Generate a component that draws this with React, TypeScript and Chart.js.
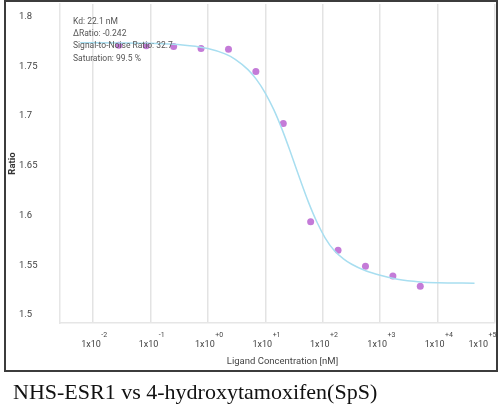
import React, { useEffect, useRef } from "react";
import { Chart, registerables } from "chart.js";

Chart.register(...registerables);

// ---- data ----
const concentrationsNM = [0.0282, 0.0847, 0.254, 0.762, 2.29, 6.86, 20.6, 61.7, 185, 556, 1667, 5000];
const ratioValues = [1.771, 1.7704, 1.7697, 1.7677, 1.767, 1.7446, 1.6923, 1.5938, 1.5651, 1.549, 1.5391, 1.5289];
const fitConcentrationsNM = [0.006, 0.03, 0.1, 0.3, 1, 2, 3, 5, 7, 10, 14, 20, 28, 40, 56, 80, 110, 160, 230, 320, 560, 1000, 2000, 5000, 10000, 44000];
const fitRatios = [1.7735, 1.7733, 1.7729, 1.7718, 1.7678, 1.7623, 1.7569, 1.7465, 1.7367, 1.723, 1.7065, 1.6852, 1.6622, 1.6368, 1.6139, 1.5929, 1.5776, 1.5645, 1.5565, 1.551, 1.5445, 1.54, 1.536, 1.5333, 1.5325, 1.532];
const xTickValues = [0.01, 0.1, 1, 10, 100, 1000, 10000, 100000];
const xTickExponents = ["-2", "-1", "+0", "+1", "+2", "+3", "+4", "+5"];
const yTickValues = [1.5, 1.55, 1.6, 1.65, 1.7, 1.75, 1.8];
const fitStats = ["Kd: 22.1 nM", "\u0394Ratio: -0.242", "Signal-to-Noise Ratio: 32.7", "Saturation: 99.5 %"];
const xAxisTitle = "Ligand Concentration [nM]";
const yAxisTitle = "Ratio";
const caption = "NHS-ESR1 vs 4-hydroxytamoxifen(SpS)";

const FONT = "Roboto, 'Open Sans', sans-serif";

const textPlugin = {
  id: "textPlugin",
  afterDraw(chart: any) {
    const ctx = chart.ctx;
    const xs = chart.scales.x;
    const area = chart.chartArea;
    ctx.save();
    // x tick labels with superscript exponents
    ctx.fillStyle = "#444";
    ctx.textAlign = "left";
    ctx.textBaseline = "alphabetic";
    xTickValues.forEach((v, i) => {
      const px = xs.getPixelForValue(v);
      ctx.font = `9px ${FONT}`;
      const base = "1x10";
      const w1 = ctx.measureText(base).width;
      ctx.font = `7px ${FONT}`;
      const w2 = ctx.measureText(xTickExponents[i]).width;
      let left = px - (w1 + w2) / 2 + 1;
      if (left + w1 + w2 > area.right + 1) left = area.right + 1 - w1 - w2;
      ctx.font = `9px ${FONT}`;
      ctx.fillText(base, left, area.bottom + 23.5);
      ctx.font = `7px ${FONT}`;
      ctx.fillText(xTickExponents[i], left + w1 + 0.5, area.bottom + 14);
    });
    // x axis title
    ctx.font = `9.5px ${FONT}`;
    ctx.fillStyle = "#444";
    ctx.textAlign = "center";
    ctx.textBaseline = "middle";
    ctx.fillText(xAxisTitle, (area.left + area.right) / 2 + 5, area.bottom + 38.5);
    // y axis title
    ctx.save();
    ctx.translate(12.5, (area.top + area.bottom) / 2);
    ctx.rotate(-Math.PI / 2);
    ctx.font = `bold 9.5px ${FONT}`;
    ctx.fillStyle = "#333";
    ctx.fillText(yAxisTitle, 0, 0);
    ctx.restore();
    // fit statistics
    ctx.font = `8.5px ${FONT}`;
    ctx.fillStyle = "#555";
    ctx.textAlign = "left";
    ctx.textBaseline = "middle";
    fitStats.forEach((t, i) => {
      ctx.fillText(t, area.left + 13, area.top + 17.5 + i * 12.3);
    });
    ctx.restore();
  },
};

export default function App() {
  const canvasRef = useRef<HTMLCanvasElement | null>(null);

  useEffect(() => {
    if (!canvasRef.current) return;
    const chart = new Chart(canvasRef.current, {
      type: "scatter",
      data: {
        datasets: [
          {
            label: "Fit",
            data: fitConcentrationsNM.map((c, i) => ({ x: c, y: fitRatios[i] })),
            showLine: true,
            borderColor: "#a8def0",
            borderWidth: 1.5,
            pointRadius: 0,
            cubicInterpolationMode: "monotone",
            fill: false,
          } as any,
          {
            label: "Data",
            data: concentrationsNM.map((c, i) => ({ x: c, y: ratioValues[i] })),
            showLine: false,
            backgroundColor: "#c47bd8",
            borderWidth: 0,
            pointRadius: 3.5,
          },
        ],
      },
      options: {
        animation: false,
        responsive: false,
        devicePixelRatio: 1,
        layout: { padding: { left: 19, top: 1, right: 5, bottom: 0 } },
        plugins: {
          legend: { display: false },
          tooltip: { enabled: false },
          title: { display: false },
        },
        scales: {
          x: {
            type: "logarithmic",
            min: 0.002667,
            max: 100000,
            afterBuildTicks: (scale: any) => {
              scale.ticks = xTickValues.map((v) => ({ value: v }));
            },
            afterFit: (scale: any) => {
              scale.height = 49;
              scale.paddingLeft = 0;
              scale.paddingRight = 0;
            },
            ticks: { display: false },
            grid: { color: "#e3e3e3", lineWidth: 1.5, drawTicks: false },
            border: { display: true, color: "#e6e6e6", width: 1.5 },
          },
          y: {
            type: "linear",
            min: 1.492,
            max: 1.8124,
            afterBuildTicks: (scale: any) => {
              scale.ticks = yTickValues.map((v) => ({ value: v }));
            },
            afterFit: (scale: any) => {
              scale.width = 41;
              scale.paddingTop = 0;
              scale.paddingBottom = 0;
            },
            ticks: {
              crossAlign: "far",
              color: "#444",
              font: { family: FONT, size: 9.5 },
              callback: (v: any) => String(Number(Number(v).toFixed(2))),
            },
            grid: { display: false, drawTicks: false },
            border: { display: true, color: "#e6e6e6", width: 1.5 },
          },
        },
      } as any,
      plugins: [textPlugin],
    });
    return () => chart.destroy();
  }, []);

  return (
    <div style={{ position: "absolute", left: 0, top: 0, width: 500, height: 420, background: "#fff" }}>
      <canvas ref={canvasRef} width={500} height={372} style={{ position: "absolute", left: 0, top: 0, width: 500, height: 372 }} />
      <div
        style={{
          position: "absolute",
          left: 4,
          top: 0,
          width: 494,
          height: 372,
          border: "2px solid #3c3c3c",
          boxSizing: "border-box",
          pointerEvents: "none",
        }}
      />
      <div
        style={{
          position: "absolute",
          left: 13,
          top: 380.5,
          font: "22px 'Liberation Serif', 'Times New Roman', serif",
          lineHeight: "22px",
          color: "#111",
          whiteSpace: "nowrap",
        }}
      >
        {caption}
      </div>
    </div>
  );
}
